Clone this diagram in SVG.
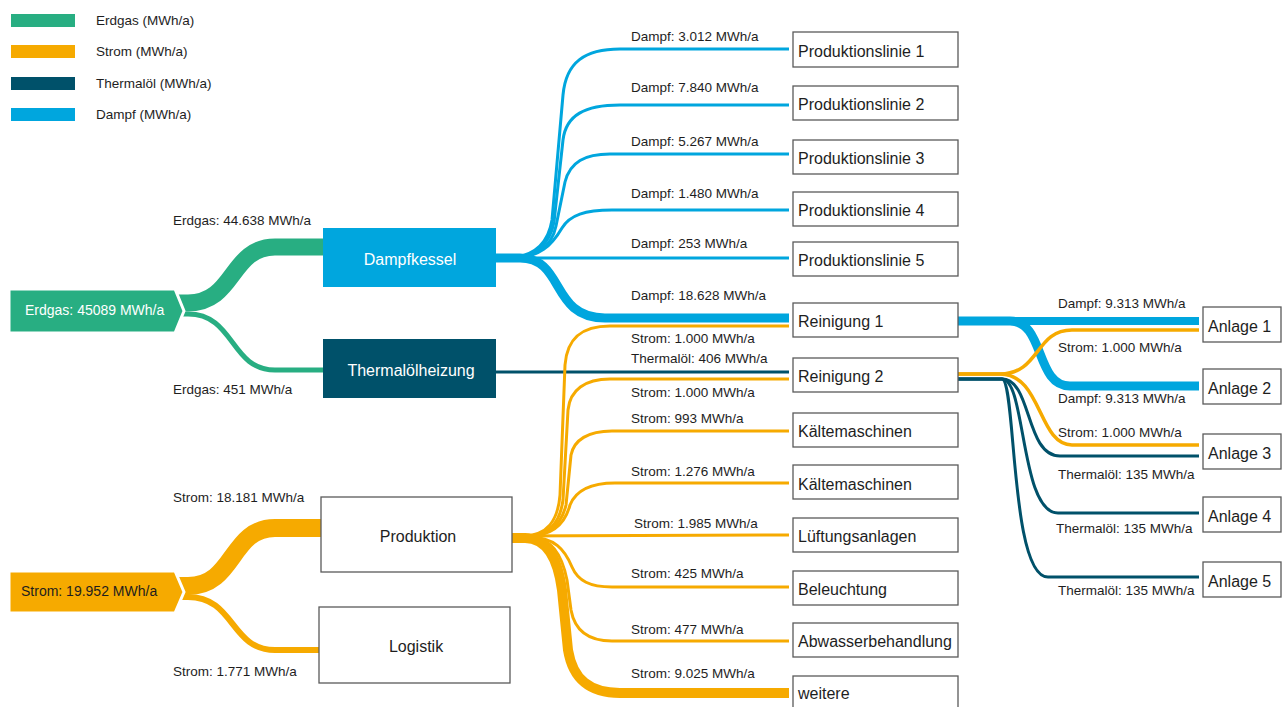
<svg xmlns="http://www.w3.org/2000/svg" width="1282" height="707" viewBox="0 0 1282 707">
<style>
  text { font-family: "Liberation Sans", Arial, sans-serif; fill: #1e1e1e; }
  .lbl { font-size: 13.5px; }
  .box { fill: #ffffff; stroke: #5a5a5a; stroke-width: 1.3; }
  .bt { font-size: 16px; }
  .f { fill: none; stroke-linecap: butt; stroke-linejoin: round; }
  .gas { stroke: #28ae82; }
  .strom { stroke: #f6aa00; }
  .oel { stroke: #00516a; }
  .dampf { stroke: #00a6de; }
</style>

<g id="legend">
  <rect x="11" y="14" width="64" height="13" fill="#28ae82"/>
  <text class="lbl" x="96" y="25">Erdgas (MWh/a)</text>
  <rect x="11" y="45" width="64" height="13" fill="#f6aa00"/>
  <text class="lbl" x="96" y="56">Strom (MWh/a)</text>
  <rect x="11" y="77" width="64" height="13" fill="#00516a"/>
  <text class="lbl" x="96" y="88">Thermalöl (MWh/a)</text>
  <rect x="11" y="108" width="64" height="13" fill="#00a6de"/>
  <text class="lbl" x="96" y="119">Dampf (MWh/a)</text>
</g>

<g id="connectors">
  <!-- Erdgas -->
  <path class="f gas" stroke-width="17" d="M178,303 L188,303 C235,303 230,247 275,247 L323,247"/>
  <path class="f gas" stroke-width="5" d="M178,314 L188,314 C235,314 230,370 275,370 L323,370"/>
  <!-- Strom source -->
  <path class="f strom" stroke-width="18" d="M178,586 L188,586 C235,586 230,528 275,528 L321,528"/>
  <path class="f strom" stroke-width="6" d="M178,597 L188,597 C235,597 230,650 275,650 L319,650"/>
  <!-- Dampf from Dampfkessel -->
  <path class="f dampf" stroke-width="3" d="M496,258 L505,258 C532,258 548,245 552,220 L563,95 C566,62 585,49 620,49 L789,49"/>
  <path class="f dampf" stroke-width="3" d="M496,258 L507,258 C534,258 550,245 554,222 L563,140 C566,115 585,105 620,105 L789,105"/>
  <path class="f dampf" stroke-width="3" d="M496,258 L509,258 C536,258 552,246 556,226 L565,182 C570,162 585,154 610,154 L789,154"/>
  <path class="f dampf" stroke-width="3" d="M496,258 L511,258 C540,258 552,245 562,228 C570,215 585,210 612,210 L789,210"/>
  <path class="f dampf" stroke-width="3" d="M496,258 L789,258"/>
  <path class="f dampf" stroke-width="9" d="M496,258 L520,258 C565,258 550,318 605,318 L789,318"/>
  <!-- Thermalöl from heizung -->
  <path class="f oel" stroke-width="3" d="M496,372 L789,372"/>
  <!-- Strom from Produktion -->
  <path class="f strom" stroke-width="3" d="M512,536 L522,536 C548,536 558,520 560,495 L565,365 C567,338 582,326 610,326 L789,326"/>
  <path class="f strom" stroke-width="3" d="M512,536 L524,536 C550,536 560,522 563,500 L568,410 C570,390 585,379 610,379 L789,379"/>
  <path class="f strom" stroke-width="3" d="M512,536 L526,536 C552,536 562,522 566,505 L571,455 C574,440 588,431 612,431 L789,431"/>
  <path class="f strom" stroke-width="3" d="M512,536 L528,536 C556,536 566,520 570,505 C576,490 590,483 615,483 L789,483"/>
  <path class="f strom" stroke-width="3" d="M512,536 L789,535"/>
  <path class="f strom" stroke-width="3" d="M512,537 L528,537 C555,537 565,550 572,567 C578,581 590,587 612,587 L789,587"/>
  <path class="f strom" stroke-width="3" d="M512,537 L527,537 C552,537 562,555 567,580 L571,610 C575,632 590,641 612,641 L789,641"/>
  <path class="f strom" stroke-width="10" d="M512,538 L525,538 C548,538 558,560 562,590 L568,650 C573,680 590,693 620,693 L789,693"/>
  <!-- Column 3 -->
  <path class="f dampf" stroke-width="8" d="M958,321 L1199,321"/>
  <path class="f dampf" stroke-width="9" d="M958,321 L1010,321 C1045,321 1035,386 1070,386 L1199,386"/>
  <path class="f strom" stroke-width="3.5" d="M958,374 L1000,374 C1040,374 1035,330 1072,330 L1199,330"/>
  <path class="f strom" stroke-width="3.5" d="M958,374 L1000,374 C1042,374 1038,445 1072,445 L1199,445"/>
  <path class="f oel" stroke-width="3" d="M958,379 L1002,379 C1032,379 1025,456 1060,456 L1199,456"/>
  <path class="f oel" stroke-width="3" d="M958,379 L1002,379 C1026,379 1020,513 1058,513 L1199,513"/>
  <path class="f oel" stroke-width="3" d="M958,379 L1002,379 C1016,379 1010,577 1048,577 L1199,577"/>
</g>

<g id="labels">
  <text class="lbl" x="173" y="225">Erdgas: 44.638 MWh/a</text>
  <text class="lbl" x="173" y="394">Erdgas: 451 MWh/a</text>
  <text class="lbl" x="173" y="502">Strom: 18.181 MWh/a</text>
  <text class="lbl" x="173" y="676">Strom: 1.771 MWh/a</text>
  <text class="lbl" x="631" y="41">Dampf: 3.012 MWh/a</text>
  <text class="lbl" x="631" y="92">Dampf: 7.840 MWh/a</text>
  <text class="lbl" x="631" y="146">Dampf: 5.267 MWh/a</text>
  <text class="lbl" x="631" y="198">Dampf: 1.480 MWh/a</text>
  <text class="lbl" x="631" y="248">Dampf: 253 MWh/a</text>
  <text class="lbl" x="631" y="300">Dampf: 18.628 MWh/a</text>
  <text class="lbl" x="631" y="343">Strom: 1.000 MWh/a</text>
  <text class="lbl" x="631" y="363">Thermalöl: 406 MWh/a</text>
  <text class="lbl" x="631" y="397">Strom: 1.000 MWh/a</text>
  <text class="lbl" x="631" y="423">Strom: 993 MWh/a</text>
  <text class="lbl" x="631" y="476">Strom: 1.276 MWh/a</text>
  <text class="lbl" x="634" y="528">Strom: 1.985 MWh/a</text>
  <text class="lbl" x="631" y="578">Strom: 425 MWh/a</text>
  <text class="lbl" x="631" y="634">Strom: 477 MWh/a</text>
  <text class="lbl" x="631" y="678">Strom: 9.025 MWh/a</text>
  <text class="lbl" x="1058" y="308">Dampf: 9.313 MWh/a</text>
  <text class="lbl" x="1058" y="352">Strom: 1.000 MWh/a</text>
  <text class="lbl" x="1058" y="403">Dampf: 9.313 MWh/a</text>
  <text class="lbl" x="1058" y="437">Strom: 1.000 MWh/a</text>
  <text class="lbl" x="1058" y="479">Thermalöl: 135 MWh/a</text>
  <text class="lbl" x="1056" y="533">Thermalöl: 135 MWh/a</text>
  <text class="lbl" x="1058" y="595">Thermalöl: 135 MWh/a</text>
</g>

<g id="src-erdgas">
  <polygon points="9,289 175,289 184,311 175,333 9,333" fill="#28ae82" stroke="#ffffff" stroke-width="3" stroke-linejoin="miter"/>
  <text x="25" y="315" font-size="14" style="fill:#ffffff">Erdgas: 45089 MWh/a</text>
</g>
<g id="src-strom">
  <polygon points="9,571 175,571 184,592 175,613 9,613" fill="#f6aa00" stroke="#ffffff" stroke-width="3" stroke-linejoin="miter"/>
  <text x="21" y="596" font-size="14">Strom: 19.952 MWh/a</text>
</g>

<g id="dampfkessel">
  <rect x="323" y="228" width="173" height="59" fill="#00a6de"/>
  <text class="bt" x="410" y="265" text-anchor="middle" style="fill:#ffffff">Dampfkessel</text>
</g>
<g id="thermaloelheizung">
  <rect x="323" y="339" width="173" height="59" fill="#00516a"/>
  <text class="bt" x="411" y="376" text-anchor="middle" style="fill:#ffffff">Thermalölheizung</text>
</g>
<g id="produktion">
  <rect class="box" x="321" y="497" width="191" height="75"/>
  <text class="bt" x="418" y="542" text-anchor="middle">Produktion</text>
</g>
<g id="logistik">
  <rect class="box" x="319" y="607" width="191" height="76"/>
  <text class="bt" x="416" y="652" text-anchor="middle">Logistik</text>
</g>

<g id="pl1"><rect class="box" x="793" y="32" width="165" height="35"/><text class="bt" x="798" y="57">Produktionslinie 1</text></g>
<g id="pl2"><rect class="box" x="793" y="86" width="165" height="34"/><text class="bt" x="798" y="110">Produktionslinie 2</text></g>
<g id="pl3"><rect class="box" x="793" y="140" width="165" height="34"/><text class="bt" x="798" y="164">Produktionslinie 3</text></g>
<g id="pl4"><rect class="box" x="793" y="192" width="165" height="34"/><text class="bt" x="798" y="216">Produktionslinie 4</text></g>
<g id="pl5"><rect class="box" x="793" y="242" width="165" height="34"/><text class="bt" x="798" y="266">Produktionslinie 5</text></g>
<g id="reinigung1"><rect class="box" x="793" y="303" width="165" height="34"/><text class="bt" x="798" y="327">Reinigung 1</text></g>
<g id="reinigung2"><rect class="box" x="793" y="358" width="165" height="34"/><text class="bt" x="798" y="382">Reinigung 2</text></g>
<g id="kaelte1"><rect class="box" x="793" y="413" width="165" height="34"/><text class="bt" x="798" y="437">Kältemaschinen</text></g>
<g id="kaelte2"><rect class="box" x="793" y="465" width="165" height="34"/><text class="bt" x="798" y="490">Kältemaschinen</text></g>
<g id="lueftung"><rect class="box" x="793" y="518" width="165" height="34"/><text class="bt" x="798" y="542">Lüftungsanlagen</text></g>
<g id="beleuchtung"><rect class="box" x="793" y="571" width="165" height="34"/><text class="bt" x="798" y="595">Beleuchtung</text></g>
<g id="abwasser"><rect class="box" x="793" y="623" width="165" height="34"/><text class="bt" x="798" y="647">Abwasserbehandlung</text></g>
<g id="weitere"><rect class="box" x="793" y="676" width="165" height="40"/><text class="bt" x="798" y="699">weitere</text></g>

<g id="anlage1"><rect class="box" x="1203" y="307" width="78" height="35"/><text class="bt" x="1208" y="332">Anlage 1</text></g>
<g id="anlage2"><rect class="box" x="1203" y="369" width="78" height="35"/><text class="bt" x="1208" y="394">Anlage 2</text></g>
<g id="anlage3"><rect class="box" x="1203" y="434" width="78" height="35"/><text class="bt" x="1208" y="459">Anlage 3</text></g>
<g id="anlage4"><rect class="box" x="1203" y="497" width="78" height="35"/><text class="bt" x="1208" y="522">Anlage 4</text></g>
<g id="anlage5"><rect class="box" x="1203" y="562" width="78" height="35"/><text class="bt" x="1208" y="587">Anlage 5</text></g>
</svg>
